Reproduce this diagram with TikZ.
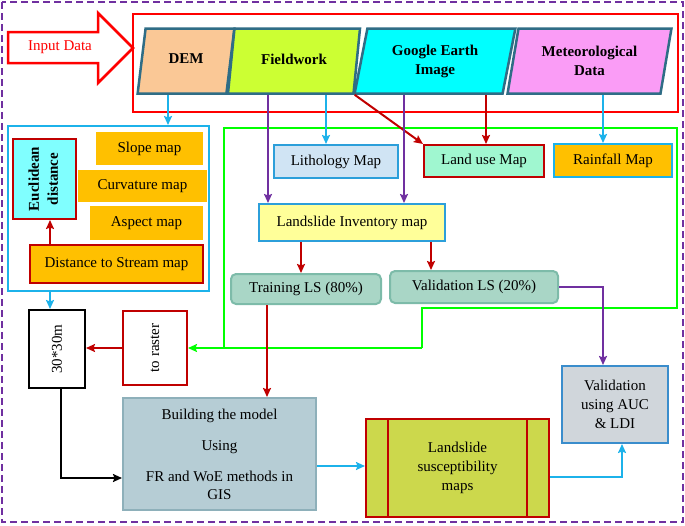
\documentclass[tikz,border=0pt]{standalone}
\usepackage{fontspec}
\setmainfont{Liberation Serif}
\usepackage{graphicx}
\usepackage{tikz}
\usetikzlibrary{shapes.geometric,arrows.meta,calc}
\newcommand{\mainsize}{\fontsize{15}{19}\selectfont}
\definecolor{framepurple}{HTML}{7030A0}
\definecolor{inred}{HTML}{FF0000}
\definecolor{darkred}{HTML}{C00000}
\definecolor{skyline}{HTML}{1CB2EA}
\definecolor{slateedge}{HTML}{2F6D86}
\definecolor{peach}{HTML}{FAC896}
\definecolor{fieldlime}{HTML}{CCFF33}
\definecolor{aquafill}{HTML}{00FFFF}
\definecolor{orchidfill}{HTML}{FA9CF6}
\definecolor{goldfill}{HTML}{FFC000}
\definecolor{paleaqua}{HTML}{80FFFF}
\definecolor{paleblue}{HTML}{D0E4F4}
\definecolor{mapblue}{HTML}{2C9FDA}
\definecolor{mintfill}{HTML}{A0F7D0}
\definecolor{paleyellow}{HTML}{FFFF99}
\definecolor{seafoam}{HTML}{A9D6C6}
\definecolor{seafoamedge}{HTML}{7DBBA9}
\definecolor{modelfill}{HTML}{B6CDD5}
\definecolor{modeledge}{HTML}{8EB0BA}
\definecolor{lsmolive}{HTML}{CCD84C}
\definecolor{greyfill}{HTML}{D0D6DB}
\definecolor{validedge}{HTML}{3A8DCC}
\definecolor{neon}{HTML}{00FF00}
\tikzset{
   box/.style={rectangle,draw,inner sep=0pt,font=\mainsize,align=center},
   source node/.style={trapezium,trapezium left angle=76,trapezium right angle=104,
                       trapezium stretches=true,draw=slateedge,line width=2.5pt,
                       minimum height=65pt,inner sep=0pt,font=\mainsize\bfseries,align=center},
   factor node/.style={box,fill=goldfill,draw=goldfill},
   sample node/.style={box,fill=seafoam,draw=seafoamedge,rounded corners=5pt},
   frame/.style={draw=framepurple,line width=2.5pt,dash pattern=on 7pt off 4pt},
   input box/.style={draw=inred,line width=2.5pt},
   green line/.style={draw=neon,line width=2pt},
   blue arrow/.style={->,draw=skyline},
   red arrow/.style={->,draw=darkred},
   purple arrow/.style={->,draw=framepurple},
   black arrow/.style={->,draw=black}
}
\begin{document}
\begin{tikzpicture}[x=1pt,y=-1pt,>={Stealth[length=9pt,width=8pt,inset=1.5pt]},line width=2pt]
\useasboundingbox (0,0) rectangle (685,525);
% frame and input block
\draw[frame] (2,2) rectangle (683,522);
\draw[input box] (133,14) rectangle (678,112);
\draw[input box] (8,32) -- (98,32) -- (98,13) -- (133,48) -- (98,83) -- (98,63) -- (8,63) -- cycle;
\node[font=\mainsize,text=inred] (inlabel) at (60,47) {Input Data};
%
\node[source node,fill=peach,minimum width=97pt]       (dem)    at (186,61)   {\raisebox{4pt}{DEM}};
\node[source node,fill=fieldlime,minimum width=133pt]  (field)  at (294,61)   {\raisebox{4pt}{Fieldwork}};
\node[source node,fill=aquafill,minimum width=161pt]   (google) at (435,61)   {Google Earth\\Image};
\node[source node,fill=orchidfill,minimum width=164pt] (met)    at (589.5,61) {Meteorological\\Data};
% green loop back to raster
\coordinate (g1) at (422,348);
\coordinate (g2) at (224,348);
\draw[green line] (g1) -- (422,308) -- (677,308) -- (677,128) -- (224,128) -- (g2);
%
\node[box,draw=skyline,minimum width=201pt,minimum height=165pt] (geo) at (108.5,208.5) {};
\node[box,fill=paleaqua,draw=darkred,minimum width=63pt,minimum height=80pt,font=\mainsize\bfseries] (euclid) at (44.5,179)
   {\rotatebox{90}{\begin{tabular}{@{}c@{}}Euclidean\\distance\end{tabular}}};
\node[factor node,minimum width=105pt,minimum height=31pt] (slope)  at (149.5,148.5) {Slope map};
\node[factor node,minimum width=127pt,minimum height=30pt] (curv)   at (142.5,186)   {Curvature map};
\node[factor node,minimum width=111pt,minimum height=32pt] (aspect) at (146.5,223)   {Aspect map};
\node[factor node,draw=darkred,minimum width=173pt,minimum height=38pt] (stream) at (116.5,264) {Distance to Stream map};
%
\node[box,fill=paleblue,draw=mapblue,minimum width=124pt,minimum height=33pt] (litho)   at (336,161.5) {Lithology Map};
\node[box,fill=mintfill,draw=darkred,minimum width=120pt,minimum height=32pt] (landuse) at (484,161)   {Land use Map};
\node[box,fill=goldfill,draw=skyline,minimum width=118pt,minimum height=33pt] (rain)    at (613,160.5) {Rainfall Map};
\node[box,fill=paleyellow,draw=mapblue,minimum width=186pt,minimum height=37pt] (inventory) at (352,222.5) {Landslide Inventory map};
\node[sample node,minimum width=150pt,minimum height=30pt] (training) at (306,289) {Training LS (80\%)};
\node[sample node,minimum width=168pt,minimum height=32pt] (vls)      at (474,287) {Validation LS (20\%)};
%
\node[box,draw=black,fill=white,minimum width=56pt,minimum height=78pt] (grid)   at (57,349)  {\rotatebox{90}{30*30m}};
\node[box,draw=darkred,fill=white,minimum width=64pt,minimum height=74pt] (raster) at (155,348) {\rotatebox{90}{to raster}};
\node[box,fill=modelfill,draw=modeledge,minimum width=193pt,minimum height=112pt,font=\fontsize{15}{18}\selectfont] (model) at (219.5,454)
   {Building the model\\[13pt]Using\\[13pt]FR and WoE methods in\\GIS};
\node[box,fill=lsmolive,draw=darkred,minimum width=183pt,minimum height=98pt] (lsm) at (457.5,468) {\raisebox{5pt}{\begin{tabular}{@{}c@{}}Landslide\\susceptibility\\maps\end{tabular}}};
\draw[darkred] ([xshift=23pt]lsm.north west) -- ([xshift=23pt]lsm.south west);
\draw[darkred] ([xshift=-23pt]lsm.north east) -- ([xshift=-23pt]lsm.south east);
\node[box,fill=greyfill,draw=validedge,minimum width=106pt,minimum height=77pt] (valid) at (615,404.5) {Validation\\using AUC\\\& LDI};
% connectors
\draw[blue arrow] ([xshift=-18pt]dem.south) -- ([xshift=-18pt]dem.south |- geo.north);
\draw[purple arrow] ([xshift=-26pt]field.south) -- ([xshift=-26pt]field.south |- inventory.north);
\draw[blue arrow] ([xshift=32pt]field.south) -- ([xshift=32pt]field.south |- litho.north);
\draw[red arrow] (field.bottom right corner) -- (landuse.north west);
\draw[purple arrow] ([xshift=-31pt]google.south) -- ([xshift=-31pt]google.south |- inventory.north);
\draw[red arrow] ([xshift=51pt]google.south) -- ([xshift=51pt]google.south |- landuse.north);
\draw[blue arrow] ([xshift=13.5pt]met.south) -- ([xshift=13.5pt]met.south |- rain.north);
\draw[red arrow] ([xshift=-66.5pt]stream.north) -- ([xshift=-66.5pt]stream.north |- euclid.south);
\draw[blue arrow] ([xshift=-58.5pt]geo.south) -- ([xshift=-58.5pt]geo.south |- grid.north);
\draw[red arrow] ([xshift=-51pt]inventory.south) -- ([xshift=-51pt]inventory.south |- training.north);
\draw[red arrow] ([xshift=79pt]inventory.south) -- ([xshift=79pt]inventory.south |- vls.north);
\draw[green line,->] (g1) -- (raster.east);
\draw[red arrow] (raster.west) -- (raster.west -| grid.east);
\draw[black arrow] ([xshift=4pt]grid.south) |- ([yshift=-24pt]model.west);
\draw[red arrow] ([xshift=-39pt]training.south) -- ([xshift=-39pt]training.south |- model.north);
\draw[blue arrow] ([yshift=2pt]lsm.west -| model.east) -- ([yshift=2pt]lsm.west);
\draw[blue arrow] ([yshift=-9pt]lsm.east) -| ([xshift=7pt]valid.south);
\draw[purple arrow] (vls.east) -| ([xshift=-12pt]valid.north);
\end{tikzpicture}
\end{document}
